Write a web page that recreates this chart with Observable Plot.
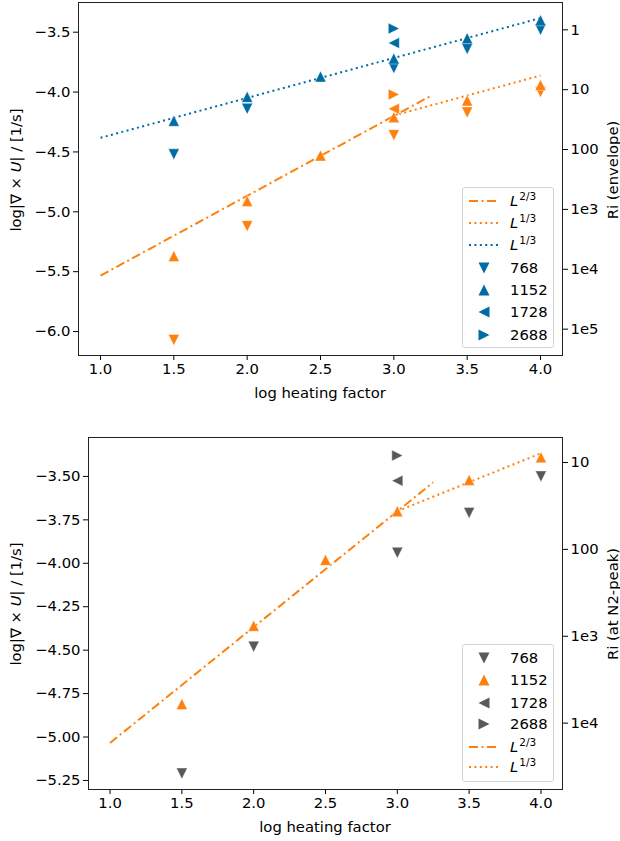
<!DOCTYPE html>
<html>
<head>
<meta charset="utf-8">
<script src="https://cdn.jsdelivr.net/npm/d3@7"></script>
<script src="https://cdn.jsdelivr.net/npm/@observablehq/plot@0.6"></script>
<style>
  html, body { margin: 0; padding: 0; background: #fff; }
  #root { position: relative; width: 620px; height: 841px; font-family: "DejaVu Sans", sans-serif; color: #000; }
  #root svg { display: block; position: absolute; left: 0; }
  .legend { position: absolute; background: rgba(255,255,255,0.8); border: 1px solid #d4d4d4; border-radius: 3px; box-sizing: border-box; }
  .row { position: absolute; left: 0; height: 20px; width: 100%; }
  .row svg { position: absolute; left: 0; top: 0; }
  .row span.t { position: absolute; left: 47px; top: 0; line-height: 20px; font-size: 14.8px; white-space: nowrap; }
  .row i { font-style: italic; }
  .row span.sup { font-size: 10.5px; vertical-align: 6px; line-height: 0; margin-left: 1px; }
</style>
</head>
<body>
<div id="root"></div>
<script>
// ---------- data ----------
const xTicks = [1.0, 1.5, 2.0, 2.5, 3.0, 3.5, 4.0];
const resolutions = ["768", "1152", "1728", "2688"];

// Top panel: envelope (blue) and second series (orange), [log heating factor, log|curl U|]
const envBlue768  = [[1.5, -4.52], [2.0, -4.14], [3.0, -3.80], [3.5, -3.64], [4.0, -3.48]];
const envBlue1152 = [[1.5, -4.24], [2.0, -4.04], [2.5, -3.87], [3.0, -3.72], [3.5, -3.55], [4.0, -3.40]];
const envBlue1728 = [[3.0, -3.59]];
const envBlue2688 = [[3.0, -3.47]];
const envOrange768  = [[1.5, -6.07], [2.0, -5.12], [3.0, -4.36], [3.5, -4.17], [4.0, -4.00]];
const envOrange1152 = [[1.5, -5.37], [2.0, -4.91], [2.5, -4.53], [3.0, -4.21], [3.5, -4.07], [4.0, -3.94]];
const envOrange1728 = [[3.0, -4.14]];
const envOrange2688 = [[3.0, -4.02]];
// fit lines (top)
const topFitOrange23 = [[1.0, -5.533], [3.25, -4.033]];
const topFitOrange13 = [[3.0, -4.196], [4.0, -3.862]];
const topFitBlue13   = [[1.0, -4.382], [4.0, -3.382]];
const topYTicks = [-6.0, -5.5, -5.0, -4.5, -4.0, -3.5];
const topRiTicks = [1, 10, 100, 1e3, 1e4, 1e5];
const topRiLabels = ["1", "10", "100", "1e3", "1e4", "1e5"];

// Bottom panel: N2-peak
const peak768  = [[1.5, -5.21], [2.0, -4.48], [3.0, -3.94], [3.5, -3.71], [4.0, -3.50]];
const peak1152 = [[1.5, -4.81], [2.0, -4.36], [2.5, -3.98], [3.0, -3.70], [3.5, -3.52], [4.0, -3.39]];
const peak1728 = [[3.0, -3.525]];
const peak2688 = [[3.0, -3.38]];
const botFitOrange23 = [[1.0, -5.034], [3.25, -3.534]];
const botFitOrange13 = [[3.0, -3.70], [4.0, -3.367]];
const botYTicks = [-5.25, -5.0, -4.75, -4.5, -4.25, -4.0, -3.75, -3.5];
const botRiTicks = [10, 100, 1e3, 1e4];
const botRiLabels = ["10", "100", "1e3", "1e4"];

// ---------- styles ----------
const BLUE = "#006BA4", ORANGE = "#FF800E", GREY = "#595959";
const DOTTED = "2,3.4";
const DASHDOT = "9,3.5,2,3.5";
const FS = 14.8;

function tri(dir) {
  return {
    draw(ctx, size) {
      const r = Math.sqrt(size / Math.PI);
      if (dir === "down") { ctx.moveTo(0, r); ctx.lineTo(-r, -r); ctx.lineTo(r, -r); }
      else if (dir === "up") { ctx.moveTo(0, -r); ctx.lineTo(-r, r); ctx.lineTo(r, r); }
      else if (dir === "left") { ctx.moveTo(-r, 0); ctx.lineTo(r, -r); ctx.lineTo(r, r); }
      else { ctx.moveTo(r, 0); ctx.lineTo(-r, -r); ctx.lineTo(-r, r); }
      ctx.closePath();
    }
  };
}
const SYM = {"768": tri("down"), "1152": tri("up"), "1728": tri("left"), "2688": tri("right")};
const R = 5.5;

function dots(data, res, fill) {
  return Plot.dot(data, {x: d => d[0], y: d => d[1], symbol: SYM[res], r: R, fill, stroke: "white", strokeWidth: 0.7, strokeOpacity: 0.6});
}
function fit(data, color, dash) {
  return Plot.line(data, {x: d => d[0], y: d => d[1], stroke: color, strokeWidth: 2, strokeDasharray: dash, strokeLinecap: "butt"});
}

const fmtFixed = (p) => (d) => d3.format("." + p + "f")(d);
const chartStyle = {fontFamily: "DejaVu Sans", fontSize: FS + "px", color: "#000", background: "transparent", overflow: "visible"};

// ---------- top chart ----------
const topRiPos = topRiTicks.map(v => -3.48 - 0.5 * Math.log10(v));
const topRiMap = new Map(topRiPos.map((p, i) => [p, topRiLabels[i]]));

const topChart = Plot.plot({
  width: 620, height: 420,
  marginLeft: 78, marginRight: 58, marginTop: 2, marginBottom: 65,
  style: chartStyle,
  x: {domain: [0.85, 4.15]},
  y: {domain: [-6.2, -3.252]},
  marks: [
    Plot.axisX(xTicks, {tickSize: 5, tickPadding: 3, tickFormat: fmtFixed(1), label: null}),
    Plot.axisY(topYTicks, {anchor: "left", tickSize: 5, tickPadding: 3, tickFormat: fmtFixed(1), label: null}),
    Plot.axisY(topRiPos, {anchor: "right", tickSize: 5, tickPadding: 3, tickFormat: d => topRiMap.get(d), label: null}),
    fit(topFitOrange23, ORANGE, DASHDOT),
    fit(topFitOrange13, ORANGE, DOTTED),
    fit(topFitBlue13, BLUE, DOTTED),
    dots(envOrange768, "768", ORANGE),
    dots(envOrange1152, "1152", ORANGE),
    dots(envOrange1728, "1728", ORANGE),
    dots(envOrange2688, "2688", ORANGE),
    dots(envBlue768, "768", BLUE),
    dots(envBlue1152, "1152", BLUE),
    dots(envBlue1728, "1728", BLUE),
    dots(envBlue2688, "2688", BLUE),
    Plot.frame({stroke: "#222", strokeWidth: 1})
  ]
});

// ---------- bottom chart ----------
const botRiPos = botRiTicks.map(v => -2.92 - 0.5 * Math.log10(v));
const botRiMap = new Map(botRiPos.map((p, i) => [p, botRiLabels[i]]));

const botChart = Plot.plot({
  width: 620, height: 421,
  marginLeft: 88, marginRight: 58, marginTop: 17, marginBottom: 52,
  style: chartStyle,
  x: {domain: [0.85, 4.15]},
  y: {domain: [-5.302, -3.276]},
  marks: [
    Plot.axisX(xTicks, {tickSize: 5, tickPadding: 3, tickFormat: fmtFixed(1), label: null}),
    Plot.axisY(botYTicks, {anchor: "left", tickSize: 5, tickPadding: 3, tickFormat: fmtFixed(2), label: null}),
    Plot.axisY(botRiPos, {anchor: "right", tickSize: 5, tickPadding: 3, tickFormat: d => botRiMap.get(d), label: null}),
    fit(botFitOrange23, ORANGE, DASHDOT),
    fit(botFitOrange13, ORANGE, DOTTED),
    dots(peak768, "768", GREY),
    dots(peak1152, "1152", ORANGE),
    dots(peak1728, "1728", GREY),
    dots(peak2688, "2688", GREY),
    Plot.frame({stroke: "#222", strokeWidth: 1})
  ]
});

const root = document.getElementById("root");
topChart.style.top = "0px";
botChart.style.top = "420px";
root.appendChild(topChart);
root.appendChild(botChart);

// ---------- axis titles ----------
function yTitle(svg, x, y, parts) {
  const t = d3.select(svg).append("text")
    .attr("transform", `translate(${x},${y}) rotate(-90)`)
    .attr("text-anchor", "middle").attr("dominant-baseline", "central")
    .attr("font-size", FS).attr("fill", "#000");
  parts.forEach(([s, it]) => t.append("tspan").text(s).attr("font-style", it ? "italic" : null));
}
function xTitle(svg, x, y, s) {
  d3.select(svg).append("text").attr("x", x).attr("y", y)
    .attr("text-anchor", "middle").attr("dominant-baseline", "central")
    .attr("font-size", FS).attr("fill", "#000").text(s);
}
const leftLabel = [["log|∇ × ", false], ["U", true], ["| / [1/s]", false]];
yTitle(topChart, 15, 170, leftLabel);
yTitle(topChart, 612, 170, [["Ri (envelope)", false]]);
xTitle(topChart, 320, 392, "log heating factor");
yTitle(botChart, 15, 184, leftLabel);
yTitle(botChart, 612, 184, [["Ri (at N2-peak)", false]]);
xTitle(botChart, 325, 406, "log heating factor");

// ---------- legends ----------
function handleSvg(kind, color) {
  if (kind === "dashdot" || kind === "dotted") {
    const dash = kind === "dashdot" ? DASHDOT : DOTTED;
    return `<svg width="40" height="20"><line x1="6" x2="35" y1="10" y2="10" stroke="${color}" stroke-width="2" stroke-dasharray="${dash}"/></svg>`;
  }
  const p = d3.path();
  SYM[kind].draw(p, R * R * Math.PI);
  return `<svg width="40" height="20"><path transform="translate(21,10)" d="${p.toString()}" fill="${color}"/></svg>`;
}
function legend(left, topPx, w, h, rows) {
  const box = document.createElement("div");
  box.className = "legend";
  Object.assign(box.style, {left: left + "px", top: topPx + "px", width: w + "px", height: h + "px"});
  rows.forEach(([cy, kind, color, html]) => {
    const r = document.createElement("div");
    r.className = "row";
    r.style.top = (cy - 10) + "px";
    r.innerHTML = handleSvg(kind, color) + `<span class="t">${html}</span>`;
    box.appendChild(r);
  });
  root.appendChild(box);
}
const L23 = `<i>L</i><span class="sup">2/3</span>`, L13 = `<i>L</i><span class="sup">1/3</span>`;
legend(462, 187, 92, 161, [
  [12.5, "dashdot", ORANGE, L23],
  [34.5, "dotted", ORANGE, L13],
  [57, "dotted", BLUE, L13],
  [80, "768", BLUE, "768"],
  [102.3, "1152", BLUE, "1152"],
  [124.3, "1728", BLUE, "1728"],
  [146.6, "2688", BLUE, "2688"]
]);
legend(462, 644, 92, 138, [
  [12.7, "768", GREY, "768"],
  [35.3, "1152", ORANGE, "1152"],
  [57.7, "1728", GREY, "1728"],
  [79.3, "2688", GREY, "2688"],
  [101.5, "dashdot", ORANGE, L23],
  [122, "dotted", ORANGE, L13]
]);
</script>
</body>
</html>
